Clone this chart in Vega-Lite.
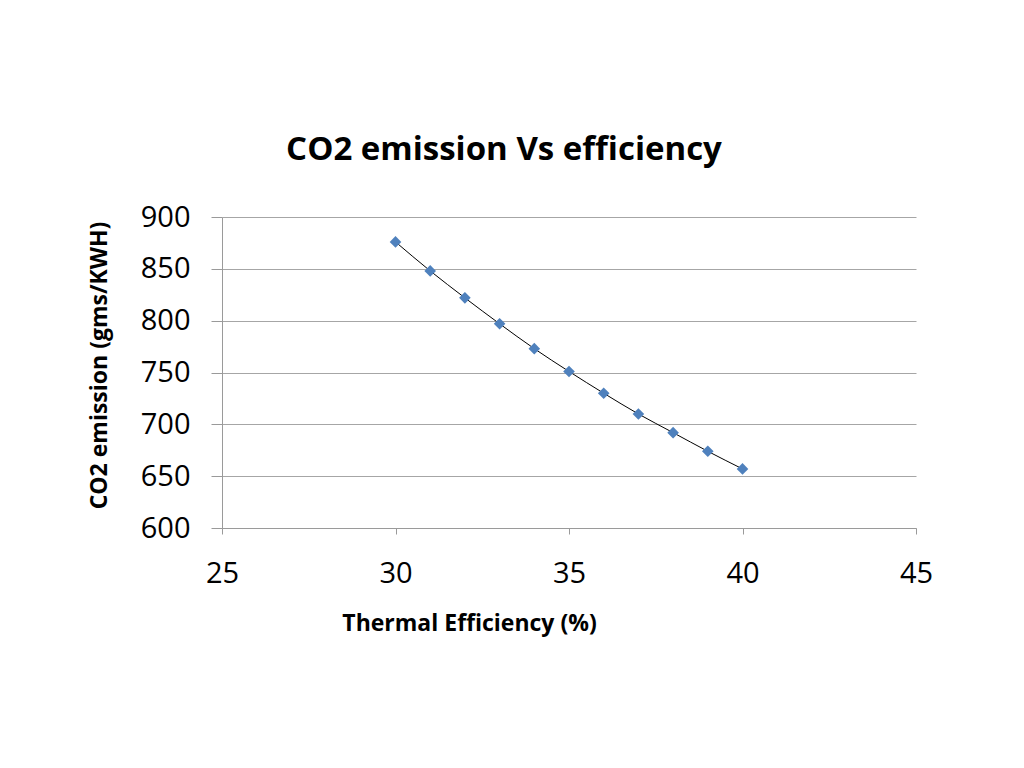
{
  "$schema": "https://vega.github.io/schema/vega-lite/v6.json",
  "width": 694,
  "height": 311,
  "autosize": {"type": "none"},
  "padding": {"left": 222, "top": 217, "right": 108, "bottom": 240},
  "background": "white",
  "title": {
    "text": "CO2 emission Vs efficiency",
    "font": "Open Sans",
    "fontSize": 33,
    "fontWeight": "bold",
    "color": "#000000",
    "anchor": "middle",
    "dx": -65,
    "offset": 36
  },
  "data": {
    "values": [
      {"eff": 30, "co2": 876},
      {"eff": 31, "co2": 848},
      {"eff": 32, "co2": 822},
      {"eff": 33, "co2": 797},
      {"eff": 34, "co2": 773},
      {"eff": 35, "co2": 751},
      {"eff": 36, "co2": 730},
      {"eff": 37, "co2": 710},
      {"eff": 38, "co2": 692},
      {"eff": 39, "co2": 674},
      {"eff": 40, "co2": 657}
    ]
  },
  "encoding": {
    "x": {
      "field": "eff",
      "type": "quantitative",
      "scale": {"domain": [25, 45], "nice": false, "zero": false},
      "axis": {
        "title": "Thermal Efficiency (%)",
        "values": [25, 30, 35, 40, 45],
        "grid": false,
        "labelFlush": false,
        "domainColor": "#9a9a9a",
        "tickColor": "#9a9a9a",
        "tickSize": 6,
        "labelPadding": 25,
        "labelFont": "Open Sans",
        "labelFontSize": 29,
        "labelColor": "#000000",
        "titleFont": "Open Sans",
        "titleFontSize": 23,
        "titleFontWeight": "bold",
        "titleColor": "#000000",
        "titleX": 247,
        "titleY": 95,
        "titleBaseline": "middle",
        "titleAnchor": "middle"
      }
    },
    "y": {
      "field": "co2",
      "type": "quantitative",
      "scale": {"domain": [600, 900], "nice": false, "zero": false},
      "axis": {
        "title": "CO2 emission (gms/KWH)",
        "values": [600, 650, 700, 750, 800, 850, 900],
        "grid": true,
        "gridColor": "#a6a6a6",
        "gridWidth": 1,
        "domainColor": "#9a9a9a",
        "tickColor": "#9a9a9a",
        "tickSize": 11,
        "labelPadding": 21,
        "labelFont": "Open Sans",
        "labelFontSize": 29,
        "labelColor": "#000000",
        "titleFont": "Open Sans",
        "titleFontSize": 23,
        "titleFontWeight": "bold",
        "titleColor": "#000000",
        "titleX": -123,
        "titleY": 148,
        "titleBaseline": "middle",
        "titleAnchor": "middle"
      }
    }
  },
  "layer": [
    {"mark": {"type": "line", "color": "#000000", "strokeWidth": 1, "interpolate": "monotone"}},
    {"mark": {"type": "point", "shape": "diamond", "filled": true, "color": "#4F81BD", "size": 135, "opacity": 1}}
  ],
  "config": {"view": {"stroke": null}}
}
